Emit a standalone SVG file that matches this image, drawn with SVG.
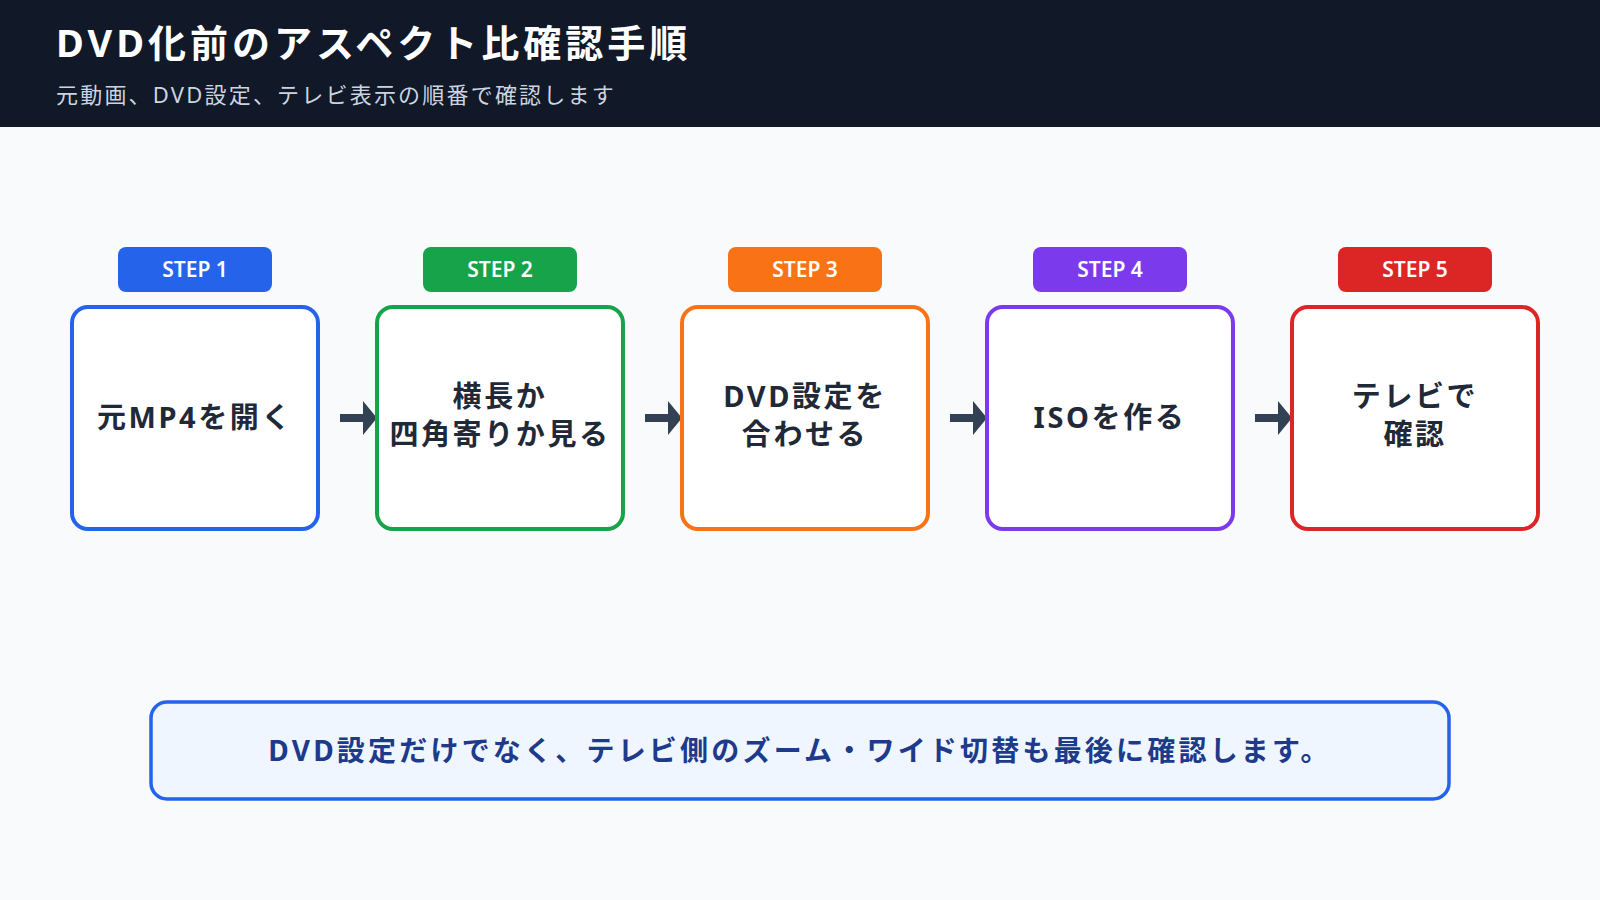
<svg xmlns="http://www.w3.org/2000/svg" width="1600" height="900" viewBox="0 0 1600 900">
<style>
text{font-family:"Noto Sans","Noto Sans CJK JP",sans-serif}
.box{fill:#fff;stroke-width:4}
.lbl{font-size:29px;font-weight:700;fill:#1f2937;text-anchor:middle;letter-spacing:2.6px}
.badge{font-size:21px;font-weight:600;fill:#fff;text-anchor:middle}
</style>
<rect width="1600" height="900" fill="#f8fafc"/>
<rect width="1600" height="127" fill="#111827"/>
<text x="56" y="57" font-size="38" font-weight="700" fill="#fff" letter-spacing="4">DVD化前のアスペクト比確認手順</text>
<text x="56" y="103" font-size="22" fill="#cbd5e1" letter-spacing="2.2">元動画、DVD設定、テレビ表示の順番で確認します</text>
<g id="connectors" stroke="#334155" stroke-width="8">
<line x1="340" y1="418" x2="365" y2="418"/><path d="M363,401 L377,418 L363,435Z" fill="#334155" stroke="none"/>
<line x1="645" y1="418" x2="670" y2="418"/><path d="M668,401 L682,418 L668,435Z" fill="#334155" stroke="none"/>
<line x1="950" y1="418" x2="975" y2="418"/><path d="M973,401 L987,418 L973,435Z" fill="#334155" stroke="none"/>
<line x1="1255" y1="418" x2="1280" y2="418"/><path d="M1278,401 L1292,418 L1278,435Z" fill="#334155" stroke="none"/>
</g>
<g id="step1"><rect x="118" y="247" width="154" height="45" rx="8" fill="#2563eb"/><text class="badge" x="195" y="277">STEP 1</text>
<rect class="box" x="72" y="307" width="246" height="222" rx="16" stroke="#2563eb"/><text class="lbl" x="195" y="428">元MP4を開く</text></g>
<g id="step2"><rect x="423" y="247" width="154" height="45" rx="8" fill="#16a34a"/><text class="badge" x="500" y="277">STEP 2</text>
<rect class="box" x="377" y="307" width="246" height="222" rx="16" stroke="#16a34a"/><text class="lbl" x="500" y="407">横長か</text><text class="lbl" x="500" y="445">四角寄りか見る</text></g>
<g id="step3"><rect x="728" y="247" width="154" height="45" rx="8" fill="#f97316"/><text class="badge" x="805" y="277">STEP 3</text>
<rect class="box" x="682" y="307" width="246" height="222" rx="16" stroke="#f97316"/><text class="lbl" x="805" y="407">DVD設定を</text><text class="lbl" x="805" y="445">合わせる</text></g>
<g id="step4"><rect x="1033" y="247" width="154" height="45" rx="8" fill="#7c3aed"/><text class="badge" x="1110" y="277">STEP 4</text>
<rect class="box" x="987" y="307" width="246" height="222" rx="16" stroke="#7c3aed"/><text class="lbl" x="1110" y="428">ISOを作る</text></g>
<g id="step5"><rect x="1338" y="247" width="154" height="45" rx="8" fill="#dc2626"/><text class="badge" x="1415" y="277">STEP 5</text>
<rect class="box" x="1292" y="307" width="246" height="222" rx="16" stroke="#dc2626"/><text class="lbl" x="1415" y="407">テレビで</text><text class="lbl" x="1415" y="445">確認</text></g>
<g id="note"><rect x="151" y="702" width="1298" height="97" rx="16" fill="#eff6ff" stroke="#2563eb" stroke-width="3.5"/>
<text x="800" y="761" font-size="28" font-weight="700" fill="#1e3a8a" text-anchor="middle" letter-spacing="3.2">DVD設定だけでなく、テレビ側のズーム・ワイド切替も最後に確認します。</text></g>
</svg>
